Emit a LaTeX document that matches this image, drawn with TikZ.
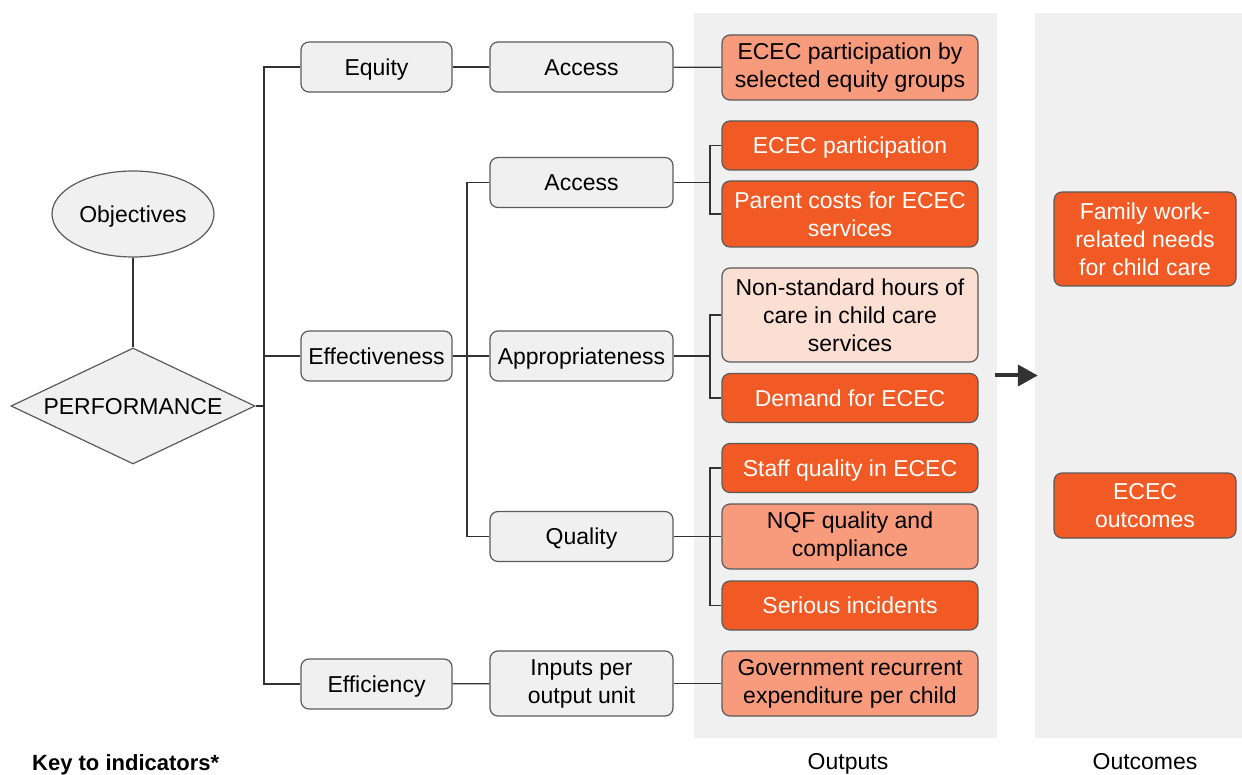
\documentclass[tikz,border=0pt]{standalone}
\usepackage{fontspec}
\setmainfont{Liberation Sans}
\usetikzlibrary{shapes.geometric,arrows.meta}
\definecolor{ordark}{RGB}{241,90,36}
\definecolor{ormid}{RGB}{247,155,124}
\definecolor{orlight}{RGB}{252,223,211}
\definecolor{boxgrey}{RGB}{240,240,240}
\definecolor{edgegrey}{RGB}{90,90,90}
\definecolor{linegrey}{RGB}{50,50,50}

\begin{document}
\begin{tikzpicture}[x=1pt,y=-1pt,
  every node/.style={font=\fontsize{23}{28}\selectfont, align=center, inner sep=0pt},
  oneline/.style={text height=16.5pt, text depth=0pt},
  greybox/.style={draw=edgegrey, fill=boxgrey, rounded corners=8pt, line width=1.2pt, minimum height=50pt},
  lvlone/.style={greybox, oneline, minimum width=151pt},
  lvltwo/.style={greybox, minimum width=183pt},
  ind/.style={draw=edgegrey, rounded corners=8pt, line width=1.2pt, minimum width=256pt, minimum height=49pt},
  outc/.style={ind, minimum width=182pt},
  hot/.style={fill=ordark, text=white},
  warm/.style={fill=ormid},
  pale/.style={fill=orlight},
  panel/.style={fill=boxgrey},
  link/.style={draw=linegrey, line width=1.2pt},
]
\useasboundingbox (0,0) rectangle (1242,775);

\node[panel, minimum width=303pt, minimum height=725pt] (outpanel) at (845.5,375.5) {};
\node[panel, minimum width=207pt, minimum height=725pt] (outcpanel) at (1138.5,375.5) {};

\node[draw=edgegrey, fill=boxgrey, ellipse, oneline, line width=1.2pt, minimum width=162pt, minimum height=86pt] (obj) at (133,214) {Objectives};
\node[draw=edgegrey, fill=boxgrey, diamond, oneline, aspect=2.1, line width=1.2pt, minimum width=244pt, minimum height=116pt] (perf) at (133,406) {PERFORMANCE};

\node[lvlone] (equity) at (376.5,67) {Equity};
\node[lvlone] (effect) at (376.5,356) {Effectiveness};
\node[lvlone] (effic) at (376.5,684) {Efficiency};

\node[lvltwo, oneline] (eqaccess) at (581.5,67) {Access};
\node[lvltwo, oneline] (access) at (581.5,182.5) {Access};
\node[lvltwo, oneline] (approp) at (581.5,356) {Appropriateness};
\node[lvltwo, oneline] (quality) at (581.5,536.5) {Quality};
\node[lvltwo, minimum height=65pt] (inputs) at (581.5,683.5) {Inputs per\\output unit};

\node[ind, warm, minimum height=65pt] (equitygrp) at (850,67.5) {ECEC participation by\\selected equity groups};
\node[ind, hot, oneline] (partic) at (850,145.5) {ECEC participation};
\node[ind, hot, minimum height=66pt] (costs) at (850,214) {Parent costs for ECEC\\services};
\node[ind, pale, minimum height=94pt] (nonstd) at (850,315) {Non-standard hours of\\care in child care\\services};
\node[ind, hot, oneline] (demand) at (850,398) {Demand for ECEC};
\node[ind, hot, oneline] (staff) at (850,468) {Staff quality in ECEC};
\node[ind, warm, minimum height=65pt] (nqf) at (850,536.5) {NQF quality and\\compliance};
\node[ind, hot, oneline] (serious) at (850,605.5) {Serious incidents};
\node[ind, warm, minimum height=65pt] (govexp) at (850,683.5) {Government recurrent\\expenditure per child};

\node[outc, hot, minimum height=94pt] (family) at (1145,239) {Family work-\\related needs\\for child care};
\node[outc, hot, minimum height=65pt] (ecout) at (1145,505.5) {ECEC\\outcomes};

\node[anchor=base] (outlbl) at (848,769) {Outputs};
\node[anchor=base] (outclbl) at (1145,769) {Outcomes};
\node[anchor=base west, font=\fontsize{22}{26}\selectfont\bfseries] (keylbl) at (32,770) {Key to indicators*};

\coordinate (trunk) at (264,406);
\coordinate (effbus) at (467,356);
\coordinate (accbus) at (710,182.5);
\coordinate (appbus) at (710,356);
\coordinate (qualbus) at (710,536.5);

\draw[link] (obj) -- (perf);
\draw[link] (perf.east) -- (trunk);
\draw[link] (equity.west) -| (trunk) |- (effic.west);
\draw[link] (trunk |- effect.west) -- (effect.west);
\draw[link] (equity) -- (eqaccess);
\draw[link] (eqaccess) -- (equitygrp);
\draw[link] (effic) -- (inputs);
\draw[link] (inputs) -- (govexp);
\draw[link] (effect) -- (approp);
\draw[link] (access.west) -| (effbus) |- (quality.west);
\draw[link] (access) -- (accbus);
\draw[link] (partic.west) -| (accbus) |- (costs.west);
\draw[link] (approp) -- (appbus);
\draw[link] (nonstd.west) -| (appbus) |- (demand.west);
\draw[link] (quality) -- (nqf);
\draw[link] (staff.west) -| (qualbus) |- (serious.west);

\draw[-{Triangle[length=20pt,width=21pt]}, line width=4pt, draw=linegrey, shorten <=-2pt, shorten >=-3pt] (outpanel.east) -- (outcpanel.west);
\end{tikzpicture}
\end{document}
